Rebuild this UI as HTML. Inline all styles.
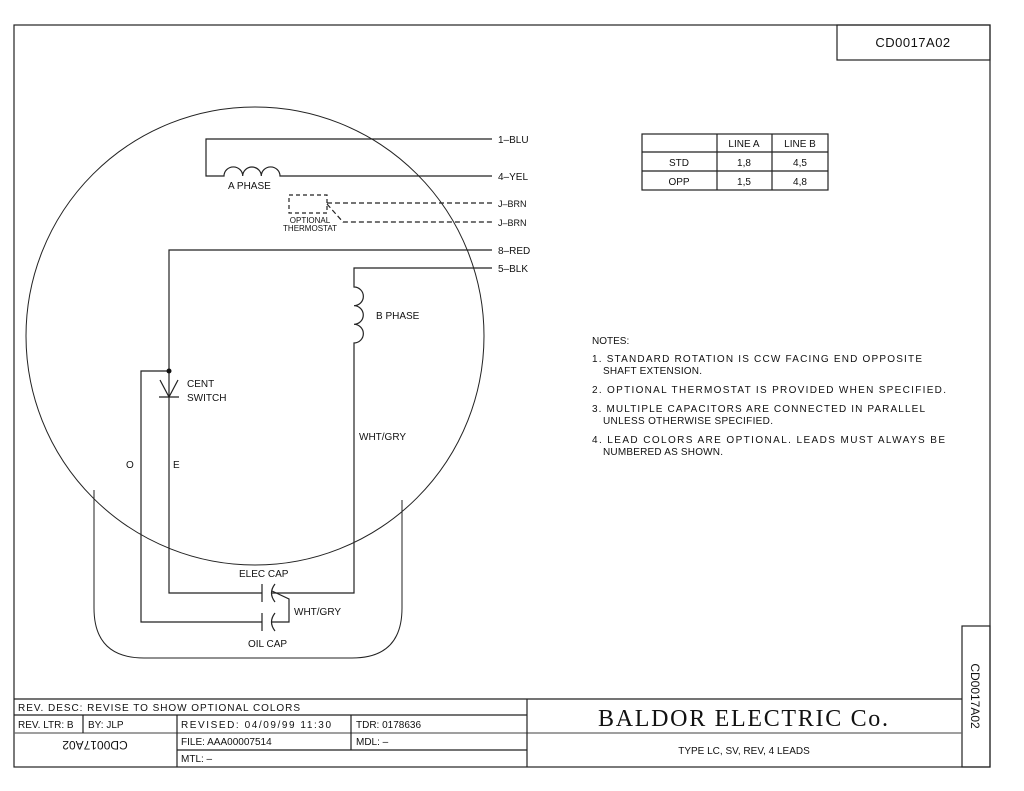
<!DOCTYPE html>
<html><head><style>
html,body{margin:0;padding:0;background:#fff;}
svg{display:block;}
text{font-family:"Liberation Sans",sans-serif;fill:#111;}
</style></head><body>
<svg width="1024" height="791" viewBox="0 0 1024 791" xmlns="http://www.w3.org/2000/svg" font-size="10">
<g fill="none" stroke="#222" stroke-width="1.2">
<rect x="14" y="25" width="976" height="742"/>
<rect x="837" y="25" width="153" height="35"/>
<rect x="962" y="626" width="28" height="141"/>
<line x1="14" y1="699" x2="962" y2="699"/>
<line x1="14" y1="715" x2="527" y2="715"/>
<line x1="14" y1="733" x2="962" y2="733" stroke="#666"/>
<line x1="177" y1="750" x2="527" y2="750"/>
<line x1="83" y1="715" x2="83" y2="733"/>
<line x1="177" y1="715" x2="177" y2="767"/>
<line x1="351" y1="715" x2="351" y2="750"/>
<line x1="527" y1="699" x2="527" y2="767"/>
<rect x="642" y="134" width="186" height="56"/>
<line x1="642" y1="152" x2="828" y2="152"/>
<line x1="642" y1="171" x2="828" y2="171"/>
<line x1="717" y1="134" x2="717" y2="190"/>
<line x1="772" y1="134" x2="772" y2="190"/>
<circle cx="255" cy="336" r="229" stroke-width="1"/>
<path d="M94 490 V608 Q94 658 144 658 H352 Q402 658 402 608 V500" stroke-width="1"/>
<path d="M492 139 H206 V176 H224 A9.3 9 0 0 1 242.7 176 A9.3 9 0 0 1 261.3 176 A9.3 9 0 0 1 280 176 H492"/>
<rect x="289" y="195" width="38" height="18" stroke-dasharray="4,3"/>
<path d="M327 203 H492" stroke-dasharray="5,3"/>
<path d="M327 204 L343 222 H492" stroke-dasharray="5,3"/>
<path d="M492 250 H169 V593 H262"/>
<path d="M492 268 H354 V287 A9.3 9.3 0 0 1 354 305.7 A9.3 9.3 0 0 1 354 324.3 A9.3 9.3 0 0 1 354 343 V593 H272"/>
<path d="M169 371 H141 V622 H262"/>
<path d="M160 380 L169 397 L178 380 M159 397 H179"/>
<line x1="262" y1="584" x2="262" y2="602"/>
<path d="M275 584 Q268 593 275 602"/>
<line x1="262" y1="613" x2="262" y2="631"/>
<path d="M275 613 Q268 622 275 631"/>
<path d="M272 591 L289 599 V622 H272"/>
</g>
<circle cx="169" cy="371" r="2.5" fill="#111"/>
<text x="498" y="143">1–BLU</text>
<text x="498" y="180">4–YEL</text>
<text x="498" y="207" font-size="9">J–BRN</text>
<text x="498" y="226" font-size="9">J–BRN</text>
<text x="498" y="254">8–RED</text>
<text x="498" y="272">5–BLK</text>
<text x="228" y="189">A  PHASE</text>
<text x="310" y="223" font-size="8" text-anchor="middle">OPTIONAL</text>
<text x="310" y="231" font-size="8" text-anchor="middle">THERMOSTAT</text>
<text x="376" y="319">B  PHASE</text>
<text x="187" y="387">CENT</text>
<text x="187" y="401">SWITCH</text>
<text x="359" y="440">WHT/GRY</text>
<text x="126" y="468">O</text>
<text x="173" y="468">E</text>
<text x="239" y="577">ELEC  CAP</text>
<text x="294" y="615">WHT/GRY</text>
<text x="248" y="647">OIL  CAP</text>
<text x="744" y="147" text-anchor="middle">LINE  A</text>
<text x="800" y="147" text-anchor="middle">LINE  B</text>
<text x="679" y="166" text-anchor="middle">STD</text>
<text x="744" y="166" text-anchor="middle">1,8</text>
<text x="800" y="166" text-anchor="middle">4,5</text>
<text x="679" y="185" text-anchor="middle">OPP</text>
<text x="744" y="185" text-anchor="middle">1,5</text>
<text x="800" y="185" text-anchor="middle">4,8</text>
<text x="913" y="47" font-size="13" text-anchor="middle" letter-spacing="0.5">CD0017A02</text>
<text x="592" y="344">NOTES:</text>
<text x="592" y="362" textLength="330" lengthAdjust="spacing">1.  STANDARD  ROTATION  IS  CCW  FACING  END  OPPOSITE</text>
<text x="603" y="374" textLength="99" lengthAdjust="spacing">SHAFT  EXTENSION.</text>
<text x="592" y="393" textLength="354" lengthAdjust="spacing">2.  OPTIONAL  THERMOSTAT  IS  PROVIDED  WHEN  SPECIFIED.</text>
<text x="592" y="412" textLength="333" lengthAdjust="spacing">3.  MULTIPLE  CAPACITORS  ARE  CONNECTED  IN  PARALLEL</text>
<text x="603" y="424" textLength="170" lengthAdjust="spacing">UNLESS  OTHERWISE  SPECIFIED.</text>
<text x="592" y="443" textLength="353" lengthAdjust="spacing">4.  LEAD  COLORS  ARE  OPTIONAL.   LEADS  MUST  ALWAYS  BE</text>
<text x="603" y="455" textLength="120" lengthAdjust="spacing">NUMBERED  AS  SHOWN.</text>
<text x="18" y="711" textLength="282" lengthAdjust="spacing">REV.  DESC:  REVISE  TO  SHOW  OPTIONAL  COLORS</text>
<text x="18" y="728">REV.  LTR:  B</text>
<text x="88" y="728">BY:  JLP</text>
<text x="181" y="728" textLength="150" lengthAdjust="spacing">REVISED: 04/09/99  11:30</text>
<text x="356" y="728">TDR: 0178636</text>
<text x="181" y="745">FILE: AAA00007514</text>
<text x="356" y="745">MDL: –</text>
<text x="181" y="762">MTL: –</text>
<text transform="translate(95,741) rotate(180)" text-anchor="middle" font-size="12">CD0017A02</text>
<text x="598" y="726" font-size="24" textLength="290" lengthAdjust="spacing" style="font-family:'Liberation Serif',serif">BALDOR  ELECTRIC  Co.</text>
<text x="744" y="754" text-anchor="middle">TYPE  LC,  SV,  REV,  4  LEADS</text>
<text transform="translate(971,696) rotate(90)" text-anchor="middle" font-size="12">CD0017A02</text>
</svg>
</body></html>
